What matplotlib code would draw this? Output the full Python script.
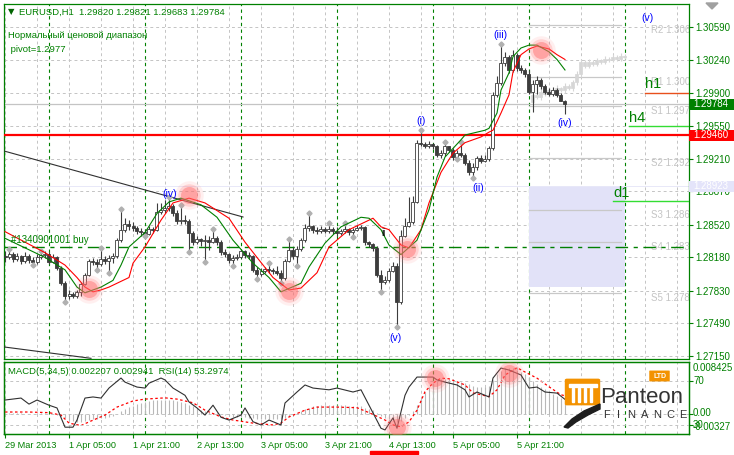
import numpy as np
import matplotlib.pyplot as plt
import matplotlib.transforms as mtransforms
from matplotlib.patches import Rectangle, Polygon, FancyBboxPatch

plt.rcParams['font.family'] = ['Liberation Sans', 'DejaVu Sans']

W, H = 734, 455
GREEN = '#008000'
DARK = '#3c3c3c'
GRID = '#c4c4c4'

# EURUSD H1, bar 0 = 29 Mar 2013 13:00, one bar per hour
first_open = 1.2820
close = [
    1.2818, 1.2822, 1.2816, 1.2820, 1.2814, 1.2820, 1.2815, 1.2813, 1.2818, 1.2821,
    1.2822, 1.2813, 1.2818, 1.2807, 1.2791, 1.2778, 1.2780, 1.2778, 1.2782, 1.2790,
    1.2800, 1.2814, 1.2813, 1.2811, 1.2816, 1.2814, 1.2817, 1.2820, 1.2836, 1.2847,
    1.2853, 1.2851, 1.2849, 1.2846, 1.2845, 1.2843, 1.2848, 1.2847, 1.2866, 1.2868,
    1.2870, 1.2872, 1.2864, 1.2856, 1.2857, 1.2856, 1.2844, 1.2834, 1.2837, 1.2835,
    1.2836, 1.2834, 1.2838, 1.2834, 1.2824, 1.2822, 1.2815, 1.2817, 1.2818, 1.2825,
    1.2821, 1.2820, 1.2805, 1.2801, 1.2804, 1.2806, 1.2805, 1.2804, 1.2802, 1.2797,
    1.2814, 1.2826, 1.2820, 1.2827, 1.2836, 1.2849, 1.2851, 1.2847, 1.2846, 1.2848,
    1.2846, 1.2848, 1.2846, 1.2844, 1.2846, 1.2848, 1.2845, 1.2847, 1.2849, 1.2850,
    1.2834, 1.2832, 1.2828, 1.2800, 1.2792, 1.2794, 1.2804, 1.2809, 1.2771, 1.2840,
    1.2851, 1.2855, 1.2876, 1.2938, 1.2937, 1.2935, 1.2937, 1.2934, 1.2925, 1.2927,
    1.2934, 1.2930, 1.2923, 1.2927, 1.2925, 1.2917, 1.2907, 1.2913, 1.2922, 1.2919,
    1.2921, 1.2932, 1.2988, 1.3000, 1.3021, 1.3028, 1.3014, 1.3030, 1.3016, 1.3014,
    1.3010, 1.2991, 1.2999, 1.3004, 1.2997, 1.2991, 1.2989, 1.2993, 1.2988, 1.2982,
    1.29784]
high = [
    1.2825, 1.2827, 1.2824, 1.2823, 1.2821, 1.2824, 1.2822, 1.2818, 1.2822, 1.2825,
    1.2825, 1.2824, 1.2822, 1.2820, 1.2809, 1.2793, 1.2784, 1.2782, 1.2784, 1.2792,
    1.2802, 1.2816, 1.2817, 1.2816, 1.2828, 1.2820, 1.2821, 1.2823, 1.2838, 1.2869,
    1.2859, 1.2857, 1.2855, 1.2851, 1.2849, 1.2848, 1.2851, 1.2850, 1.2875, 1.2875,
    1.2878, 1.2881, 1.2874, 1.2868, 1.2873, 1.2862, 1.2858, 1.2846, 1.2840, 1.2838,
    1.2841, 1.2840, 1.2848, 1.2840, 1.2836, 1.2827, 1.2823, 1.2821, 1.2822, 1.2827,
    1.2826, 1.2824, 1.2821, 1.2808, 1.2807, 1.2808, 1.2812, 1.2807, 1.2809, 1.2805,
    1.2816, 1.2837, 1.2829, 1.2830, 1.2838, 1.2853, 1.2864, 1.2852, 1.2850, 1.2851,
    1.2850, 1.2854, 1.2850, 1.2850, 1.2848, 1.2854, 1.2849, 1.2849, 1.2852, 1.2852,
    1.2851, 1.2835, 1.2833, 1.2830, 1.2805, 1.2799, 1.2807, 1.2813, 1.2812, 1.2847,
    1.2859, 1.2881, 1.2882, 1.2941, 1.2951, 1.2939, 1.2940, 1.2938, 1.2936, 1.2930,
    1.2939, 1.2935, 1.2932, 1.2930, 1.2939, 1.2927, 1.2920, 1.2917, 1.2924, 1.2925,
    1.2925, 1.2935, 1.2991, 1.3008, 1.3041, 1.3033, 1.3030, 1.3035, 1.3032, 1.3019,
    1.3016, 1.3014, 1.3004, 1.3008, 1.3006, 1.2999, 1.2995, 1.2996, 1.2995, 1.2990,
    1.29821]
low = [
    1.2813, 1.2816, 1.2813, 1.2814, 1.2811, 1.2812, 1.2812, 1.2810, 1.2811, 1.2816,
    1.2817, 1.2811, 1.2812, 1.2805, 1.2789, 1.2771, 1.2775, 1.2776, 1.2776, 1.2778,
    1.2789, 1.2799, 1.2810, 1.2805, 1.2809, 1.2811, 1.2802, 1.2812, 1.2817, 1.2834,
    1.2845, 1.2847, 1.2846, 1.2843, 1.2840, 1.2840, 1.2841, 1.2844, 1.2846, 1.2863,
    1.2864, 1.2867, 1.2861, 1.2853, 1.2853, 1.2853, 1.2824, 1.2831, 1.2832, 1.2830,
    1.2813, 1.2826, 1.2833, 1.2831, 1.2821, 1.2818, 1.2812, 1.2809, 1.2815, 1.2817,
    1.2817, 1.2816, 1.2803, 1.2795, 1.2799, 1.2802, 1.2802, 1.2801, 1.2800, 1.2791,
    1.2794, 1.2813, 1.2816, 1.2809, 1.2825, 1.2834, 1.2846, 1.2844, 1.2843, 1.2844,
    1.2844, 1.2844, 1.2843, 1.2840, 1.2841, 1.2844, 1.2841, 1.2839, 1.2846, 1.2847,
    1.2831, 1.2829, 1.2825, 1.2798, 1.2782, 1.2790, 1.2792, 1.2803, 1.2745, 1.2769,
    1.2839, 1.2850, 1.2853, 1.2875, 1.2935, 1.2932, 1.2932, 1.2931, 1.2923, 1.2922,
    1.2924, 1.2928, 1.2920, 1.2921, 1.2923, 1.2915, 1.2904, 1.2901, 1.2909, 1.2917,
    1.2918, 1.2919, 1.2930, 1.2986, 1.2998, 1.3018, 1.3011, 1.3012, 1.3013, 1.3011,
    1.3007, 1.2989, 1.2970, 1.2989, 1.2994, 1.2989, 1.2987, 1.2987, 1.2986, 1.2982,
    1.29683]

fractal_up = [1, 9, 24, 29, 41, 44, 52, 66, 71, 76, 81, 85, 104, 110, 114, 124]
fractal_down = [7, 15, 23, 26, 35, 46, 50, 57, 63, 69, 73, 87, 94, 98, 113, 117]

# light grey projected bars
ghost_start = 132
ghost_open = [1.2981, 1.2988, 1.2986, 1.2991, 1.2989, 1.2993, 1.2991, 1.2995, 1.2993, 1.2997,
              1.2995, 1.3001, 1.3010, 1.3022, 1.3018, 1.3022, 1.3020, 1.3024, 1.3022, 1.3026,
              1.3024, 1.3028, 1.3025, 1.3029]
ghost_close = [1.2988, 1.2986, 1.2991, 1.2989, 1.2993, 1.2991, 1.2995, 1.2993, 1.2997, 1.2995,
               1.3001, 1.3010, 1.3022, 1.3018, 1.3022, 1.3020, 1.3024, 1.3022, 1.3026, 1.3024,
               1.3028, 1.3025, 1.3029, 1.3028]
ghost_high = [1.2990, 1.2990, 1.2994, 1.2993, 1.2996, 1.2995, 1.2998, 1.2996, 1.3000, 1.2999,
              1.3004, 1.3013, 1.3025, 1.3024, 1.3025, 1.3024, 1.3027, 1.3026, 1.3029, 1.3028,
              1.3031, 1.3030, 1.3032, 1.3031]
ghost_low = [1.2978, 1.2984, 1.2983, 1.2987, 1.2986, 1.2989, 1.2988, 1.2991, 1.2990, 1.2993,
             1.2992, 1.2998, 1.3007, 1.3016, 1.3016, 1.3018, 1.3018, 1.3020, 1.3020, 1.3022,
             1.3022, 1.3023, 1.3023, 1.3026]

# moving averages (green fast, red slow)
ma_fast_bar = [0, 10, 15, 18, 20, 24, 27, 29, 31, 35, 38, 41, 44, 49, 53, 57, 62, 66, 69, 74,
               76, 80, 84, 89, 91, 94, 96, 99, 103, 106, 108, 110, 114, 115, 120, 121, 123, 124,
               126, 127, 129, 131, 133, 136, 138, 140]
ma_fast = [1.2838, 1.2818, 1.2805, 1.2787, 1.2781, 1.2787, 1.2794, 1.2810, 1.2829, 1.2844,
           1.2864, 1.2876, 1.2880, 1.2873, 1.2860, 1.2836, 1.2812, 1.2797, 1.2782, 1.2791,
           1.2808, 1.2833, 1.2850, 1.2860, 1.2859, 1.2847, 1.2831, 1.2821, 1.2836, 1.2868,
           1.2902, 1.2923, 1.2941, 1.2946, 1.2951, 1.2953, 1.2969, 1.2993, 1.3011, 1.3028,
           1.3037, 1.3040, 1.3040, 1.3033, 1.3025, 1.3014]
ma_slow_bar = [0, 10, 15, 18, 20, 22, 24, 26, 31, 32, 35, 39, 42, 46, 50, 56, 60, 63, 67, 71,
               74, 78, 81, 86, 92, 94, 96, 99, 101, 104, 106, 109, 112, 115, 119, 121, 122, 124,
               126, 127, 129, 131, 133, 136, 138, 140]
ma_slow = [1.2845, 1.2823, 1.2810, 1.2797, 1.2787, 1.2782, 1.2784, 1.2787, 1.2797, 1.2812,
           1.2829, 1.2857, 1.2875, 1.2880, 1.2875, 1.2859, 1.2834, 1.2818, 1.2797, 1.2784,
           1.2786, 1.2802, 1.2829, 1.2847, 1.2859, 1.2850, 1.2847, 1.2831, 1.2828, 1.2847,
           1.2875, 1.2907, 1.2927, 1.2938, 1.2944, 1.2949, 1.2951, 1.2969, 1.2988, 1.3012,
           1.3030, 1.3036, 1.3039, 1.3036, 1.3030, 1.3025]

price_ticks = [1.30590, 1.30240, 1.29900, 1.29550, 1.29210, 1.28870,
               1.28520, 1.28180, 1.27830, 1.27490, 1.27150]
red_level = 1.29460
bid = 1.29784
range_top = 1.28923
range_bottom = 1.2787
order_price = 1.2829
pivot_names = ['R2', 'R1', 'S1', 'S2', 'S3', 'S4', 'S5']
pivot_levels = [1.3061, 1.3007, 1.2976, 1.2922, 1.2868, 1.2834, 1.2781]
tf_names = ['h1', 'h4', 'd1']
tf_levels = [1.2990, 1.2955, 1.2877]

trend_a_bar, trend_a = [-0.25, 59.5], [1.29293, 1.28603]
trend_b_bar, trend_b = [-0.25, 21.5], [1.27244, 1.27125]

waves = [('(iv)', 41.25, 1.28844), ('(i)', 104, 1.29607), ('(ii)', 118.25, 1.28906),
         ('(iii)', 123.75, 1.30506), ('(iv)', 140, 1.29586), ('(v)', 97.75, 1.27338),
         ('(v)', 160.75, 1.30684)]
spot_bar = [21, 46, 71, 100.5, 134]
spot_price = [1.2785, 1.2883, 1.2783, 1.2827, 1.3035]

# MACD(5,34,5) main, in 1e-4 units, one per bar
macd_e4 = [2, 2, 1, 1, 1, 0, 0, 0, 1, 1,
           1, 0, -1, -2, -4, -7, -10, -12, -13, -13,
           -12, -10, -9, -8, -7, -6, -5, -3, 0, 4,
           8, 11, 13, 16, 18, 20, 21, 22, 23, 23,
           23, 22, 22, 21, 20, 18, 15, 12, 9, 7,
           5, 3, 2, 1, -1, -2, -4, -5, -5, -5,
           -5, -6, -7, -8, -8, -8, -8, -8, -8, -8,
           -6, -3, -1, 2, 5, 8, 10, 12, 13, 14,
           15, 15, 15, 14, 14, 14, 13, 13, 12, 12,
           10, 8, 6, 2, -3, -7, -9, -11, -14, -12,
           -7, -2, 5, 15, 25, 35, 43, 50, 54, 56,
           57, 56, 55, 53, 51, 50, 48, 45, 44, 43,
           44, 46, 55, 64, 70, 74, 75, 74, 72, 68,
           64, 60, 54, 48, 44, 40, 36, 32, 29, 25,
           22]
sig_bar = [0, 6, 11, 14, 16, 19, 21, 25, 28, 32, 35, 40, 43, 47, 50, 54, 57, 62, 67, 69,
           71, 75, 78, 83, 88, 91, 95, 97, 99, 101, 103, 105, 107, 109, 111, 115, 117, 121,
           123, 125, 128, 130, 133, 136, 139, 140]
sig_val = [0.0003, 0.0003, 0.0002, -0.0002, -0.0015, -0.0019, -0.0013, -0.0002, 0.0011, 0.0021,
           0.0024, 0.0026, 0.0024, 0.0018, 0.0006, -0.0005, -0.0010, -0.0015, -0.0018, -0.0015,
           -0.0005, 0.0006, 0.0011, 0.0011, 0.0010, 0.0002, -0.0010, -0.0018, -0.0021, -0.0013,
           0.0006, 0.0036, 0.0050, 0.0058, 0.0057, 0.0047, 0.0034, 0.0028, 0.0039, 0.0063,
           0.0075, 0.0068, 0.0058, 0.0044, 0.0031, 0.002941]
rsi_bar = [0, 4, 6, 8, 11, 13, 15, 17, 18, 20, 22, 24, 26, 29, 30, 33, 35, 36, 39, 40,
           42, 45, 46, 48, 50, 52, 54, 56, 59, 60, 62, 64, 66, 69, 70, 73, 75, 77, 81, 83,
           87, 89, 91, 92, 94, 95, 97, 98, 100, 101, 103, 107, 108, 110, 113, 115, 116, 118,
           121, 122, 124, 126, 129, 131, 133, 135, 138, 140]
rsi_val = [52.7, 54.5, 49, 52.7, 48, 45.5, 28, 28, 34.5, 54.5, 55.5, 54.5, 63.6, 72.7, 69,
           64.5, 63.6, 68, 72.7, 71, 63.6, 57, 51, 45.5, 39, 48, 37, 34.5, 39, 45.5,
           33, 30, 34.5, 30, 50, 60, 66.4, 63.6, 62, 63.6, 60, 62, 48, 41, 27, 25.5,
           36.4, 27, 57, 64.5, 73.6, 73.6, 71, 69, 66.4, 62, 55.5, 60, 55.5, 72.7,
           81.8, 80, 75.5, 63.6, 64.5, 60, 59, 53.3]
rsi_spot_bar = [98, 107.5, 126]
rsi_spot = [28.2, 72.7, 77.3]

time_labels = ['29 Mar 2013', '1 Apr 05:00', '1 Apr 21:00', '2 Apr 13:00', '3 Apr 05:00',
               '3 Apr 21:00', '4 Apr 13:00', '5 Apr 05:00', '5 Apr 21:00']
day_starts = [11, 35, 59, 83, 107, 131, 155]


def fx(px):
    return px / W


def fy(py):
    return 1 - py / H


fig = plt.figure(figsize=(W / 100, H / 100), dpi=100)
ax = fig.add_axes([fx(4), fy(359), fx(689) - fx(4), fy(4) - fy(359)])
ax2 = fig.add_axes([fx(4), fy(434), fx(689) - fx(4), fy(362) - fy(434)])
ax3 = ax2.twinx()

XMIN, XMAX = -0.25, 171
YMIN, YMAX = 1.27118, 1.30830
PPX = (YMAX - YMIN) / 355.0
ax.set_xlim(XMIN, XMAX)
ax.set_ylim(YMIN, YMAX)
for a in (ax, ax2, ax3):
    a.set_xlim(XMIN, XMAX)
    for s in a.spines.values():
        s.set_color(GREEN)
        s.set_linewidth(0.9)
ax2.set_ylim(-0.00327, 0.008425)
ax3.set_ylim(21.8, 87.3)

# grid
for p in price_ticks:
    ax.axhline(p, color=GRID, lw=0.7, ls=(0, (3, 3)), zorder=0)
for a in (ax, ax2):
    for i in range(0, 172, 8):
        a.axvline(i, color=GRID, lw=0.7, ls=(0, (3, 3)), zorder=0)
    for d in day_starts:
        a.axvline(d, color=GREEN, lw=0.8, ls=(0, (3, 3)), zorder=1)
ax2.axhline(0, color=GRID, lw=0.7, ls=(0, (3, 3)), zorder=0)
for lv in (70, 30):
    ax3.axhline(lv, color=GRID, lw=0.7, ls=(0, (3, 3)), zorder=0)

# normal range box, pivots, levels
ax.add_patch(Rectangle((131, range_bottom), 24, range_top - range_bottom,
                       facecolor='#e2e2f8', edgecolor='none', zorder=1))
ax.axhline(range_top, color='#e8e8f8', lw=0.7, zorder=1)
for name, lv in zip(pivot_names, pivot_levels):
    ax.plot([131, 154], [lv, lv], color='#c8c8c8', lw=0.9, zorder=1)
    ax.text(161.5, lv, f'{name} {lv:.4f}', color='#c4c4c4', fontsize=7,
            va='top', ha='left', zorder=2, clip_on=True)
ax.axhline(bid, color='#c4c4c4', lw=0.9, zorder=1)
ax.axhline(red_level, color='#ff0000', lw=1.6, zorder=3)
ax.axhline(order_price, color=GREEN, lw=1.0, ls=(0, (9, 4, 3, 4)), zorder=3)
ax.text(1.5, order_price + 2 * PPX, '#1340901001 buy', color=GREEN, fontsize=7,
        va='bottom', ha='left', zorder=9)
for name, lv, start, col in zip(tf_names, tf_levels, [160, 156, 152],
                                ['#e8501c', '#33dd33', '#33dd33']):
    ax.plot([start, XMAX], [lv, lv], color=col, lw=1.0, zorder=3)
    ax.text(start, lv + 1.5 * PPX, name, color=GREEN, fontsize=10.5,
            va='bottom', ha='left', zorder=9)

# trend lines
ax.plot(trend_a_bar, trend_a, color='#303030', lw=0.8, zorder=3)
ax.plot(trend_b_bar, trend_b, color='#303030', lw=0.8, zorder=3)

# projected bars
gx = np.arange(ghost_start, ghost_start + len(ghost_close))
go, gc = np.array(ghost_open), np.array(ghost_close)
ax.vlines(gx, ghost_low, ghost_high, color='#d6d6d6', lw=0.8, zorder=2)
ax.bar(gx, gc - go, bottom=go, width=0.75, color='#d6d6d6', edgecolor='#d6d6d6',
       lw=0.5, zorder=2)

# candles
idx = np.arange(len(close))
c = np.array(close)
o = np.r_[first_open, c[:-1]]
bull = c >= o
ax.vlines(idx, low, high, color=DARK, lw=0.8, zorder=4)
ax.bar(idx[bull], c[bull] - o[bull], bottom=o[bull], width=0.75, color='white',
       edgecolor=DARK, lw=0.6, zorder=5)
ax.bar(idx[~bull], c[~bull] - o[~bull], bottom=o[~bull], width=0.75, color=DARK,
       edgecolor=DARK, lw=0.6, zorder=5)
hi, lo = np.array(high), np.array(low)
ax.plot(fractal_up, hi[fractal_up], 'D', ms=2.6, color='#b0b0b0', zorder=6)
ax.plot(fractal_down, lo[fractal_down], 'D', ms=2.6, color='#b0b0b0', zorder=6)

# moving averages
ax.plot(ma_slow_bar, ma_slow, color='#ff0000', lw=0.8, zorder=7)
ax.plot(ma_fast_bar, ma_fast, color=GREEN, lw=0.8, zorder=7)


def glow(a, xs, ys):
    for s, al in [(420, 0.10), (260, 0.22), (150, 0.45)]:
        a.scatter(xs, ys, s=s, color='#ff6b6b', alpha=al, lw=0, zorder=8)


glow(ax, spot_bar, spot_price)

for txt, b, p in waves:
    ax.text(b, p, txt, color='#0000ff', fontsize=7.5, ha='center', va='center', zorder=9)
ax.text(94.75, 1.2844, 'ii', color='black', fontsize=7, ha='center', va='center', zorder=9)

# price axis
ax.yaxis.tick_right()
ax.set_yticks(price_ticks)
ax.set_yticklabels([f'{p:.5f}' for p in price_ticks])
ax.tick_params(axis='y', colors=GREEN, labelsize=7, length=3, width=0.8, pad=1.5)
ax.set_xticks([])

trans = mtransforms.blended_transform_factory(fig.transFigure, ax.transData)
for lv, fc, tc in [(range_top, '#e4e4fa', 'white'), (red_level, '#ff0000', 'white'),
                   (bid, GREEN, 'white')]:
    ax.add_patch(Rectangle((fx(689), lv - 5.5 * PPX), fx(734) - fx(689), 11 * PPX,
                           transform=trans, facecolor=fc, edgecolor='none',
                           clip_on=False, zorder=10))
    ax.text(fx(693), lv, f'{lv:.5f}', transform=trans, color=tc, fontsize=7,
            va='center', ha='left', clip_on=False, zorder=11)

# indicator window
ax2.vlines(idx, 0, np.array(macd_e4) * 1e-4, color='#b8b8b8', lw=0.8, zorder=2)
ax2.plot(sig_bar, sig_val, color='#ff0000', lw=0.9, ls=(0, (2, 2)), zorder=3)
ax3.plot(rsi_bar, rsi_val, color='#303030', lw=0.8, zorder=4)
glow(ax3, rsi_spot_bar, rsi_spot)

ax2.set_yticks([0])
ax2.set_yticklabels([''])
ax2.yaxis.tick_right()
ax3.set_yticks([30, 70])
ax3.set_yticklabels(['', ''])
for a in (ax2, ax3):
    a.tick_params(axis='y', colors=GREEN, length=3, width=0.8)
ax3.tick_params(axis='x', length=0)
ax2.set_xticks(range(0, 129, 16))
ax2.set_xticklabels(time_labels)
ax2.tick_params(axis='x', colors=GREEN, labelsize=6.6, length=3, width=0.8, pad=2)
for lbl in ax2.get_xticklabels():
    lbl.set_ha('left')

for txt, ypx in [('0.008425', 368), ('70', 381), ('0.00', 413), ('-0.00327', 427), ('30', 425)]:
    fig.text(fx(693), fy(ypx), txt, color=GREEN, fontsize=7, va='center', ha='left')

fig.text(fx(8), fy(372), 'MACD(5,34,5) 0.002207 0.002941  RSI(14) 53.2974',
         color=GREEN, fontsize=6.8, va='center', ha='left')

# header texts
fig.text(fx(8), fy(12), '\u25bc', color='#006400', fontsize=6, va='center', ha='left',
         family=['DejaVu Sans'])
fig.text(fx(19), fy(12), 'EURUSD,H1  1.29820 1.29821 1.29683 1.29784', color=GREEN,
         fontsize=6.8, va='center', ha='left')
fig.text(fx(8), fy(36), 'Нормальный ценовой диапазон', color=GREEN, fontsize=6.8,
         va='center', ha='left')
fig.text(fx(8), fy(50), ' pivot=1.2977', color=GREEN, fontsize=6.8, va='center', ha='left')

# chart shift marker and scroll marker
fig.add_artist(Polygon([(fx(706), fy(3)), (fx(718), fy(3)), (fx(712), fy(9))],
                       closed=True, transform=fig.transFigure, color='#a0a0a0'))
fig.add_artist(Rectangle((fx(370), fy(454)), fx(418) - fx(370), fy(451) - fy(454),
                         transform=fig.transFigure, color='#ff0000'))

# Panteon Finance logo
ORANGE = '#f39200'
fig.add_artist(FancyBboxPatch((fx(567), fy(404)), fx(598) - fx(567), fy(380) - fy(404),
                              boxstyle='round,pad=0.003', transform=fig.transFigure,
                              facecolor=ORANGE, edgecolor='none'))
for xc in (572, 578, 584, 590):
    fig.add_artist(Rectangle((fx(xc), fy(402)), fx(2.2) - fx(0), fy(388) - fy(402),
                             transform=fig.transFigure, color='white'))
fig.add_artist(Rectangle((fx(569), fy(387)), fx(28), fy(384) - fy(387),
                         transform=fig.transFigure, color='white'))
fig.add_artist(Polygon([(fx(x), fy(y)) for x, y in
                        [(564, 427), (572, 419), (584, 411), (600, 404), (600, 409),
                         (588, 415), (576, 422), (568, 428)]],
                       closed=True, transform=fig.transFigure, color='#1e1e1e'))
fig.add_artist(FancyBboxPatch((fx(650), fy(381)), fx(19), fy(371) - fy(381),
                              boxstyle='round,pad=0.001', transform=fig.transFigure,
                              facecolor=ORANGE, edgecolor='none'))
fig.text(fx(659.5), fy(376), 'LTD', color='white', fontsize=5, ha='center',
         va='center', weight='bold')
fig.text(fx(600), fy(403), 'Panteon', color='#333333', fontsize=16, ha='left',
         va='baseline')
for k, ch in enumerate('FINANCE'):
    fig.text(fx(606 + k * 12.8), fy(418), ch, color='#333333', fontsize=8,
             ha='center', va='baseline')

fig.savefig('out.png', dpi=100, facecolor='white')
